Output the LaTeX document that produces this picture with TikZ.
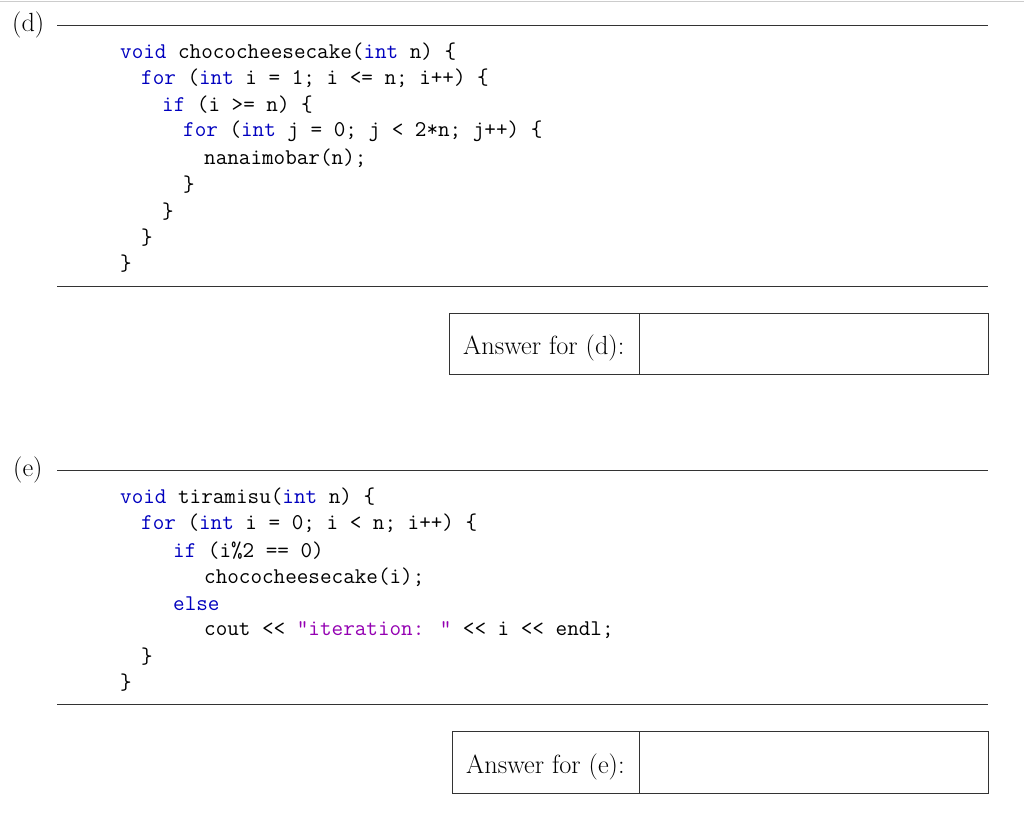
\documentclass[tikz,border=0pt]{standalone}
\usepackage{xcolor}
\definecolor{kw}{rgb}{0,0,0.75}
\definecolor{st}{rgb}{0.58,0,0.7}
\begin{document}
\begin{tikzpicture}[x=1pt,y=-1pt,
  code/.style={anchor=west,inner sep=0pt,yshift=-1.5pt,font=\fontsize{22.5}{27}\selectfont\ttfamily},
  lbl/.style={inner sep=0pt,font=\fontsize{26.3}{30}\selectfont},
  rule/.style={draw=black!80,line width=0.9pt}]
\useasboundingbox[fill=white] (0,0) rectangle (1024,833);
\draw[black!20,line width=1pt] (0,1) -- (1024,1);
% (d)
\node[lbl,anchor=west] (dl) at (12,25) {(d)};
\coordinate (d1a) at (57,25); \coordinate (d1b) at (988,25);
\draw[rule] (d1a) -- (d1b);
\node[code] (c1) at (120,50) {\textcolor{kw}{void} chococheesecake(\textcolor{kw}{int} n) \{};
\node[code] (c2) at (141,77) {\textcolor{kw}{for} (\textcolor{kw}{int} i = 1; i <= n; i++) \{};
\node[code] (c3) at (162,103) {\textcolor{kw}{if} (i >= n) \{};
\node[code] (c4) at (183,130) {\textcolor{kw}{for} (\textcolor{kw}{int} j = 0; j < 2*n; j++) \{};
\node[code] (c5) at (204,157) {nanaimobar(n);};
\node[code] (c6) at (183,183) {\}};
\node[code] (c7) at (162,210) {\}};
\node[code] (c8) at (141,236) {\}};
\node[code] (c9) at (120,262) {\}};
\coordinate (d2a) at (57,286); \coordinate (d2b) at (988,286);
\draw[rule] (d2a) -- (d2b);
\node[draw=black!80,line width=0.8pt,minimum width=539,minimum height=61,anchor=north west,inner sep=0pt] (bd) at (449,313) {};
\draw[black!80,line width=0.8pt] (639,313) -- (639,374);
\node[lbl,anchor=west] (ad) at (463,348) {Answer for (d):};
% (e)
\node[lbl,anchor=west] (el) at (13,470) {(e)};
\coordinate (e1a) at (57,470); \coordinate (e1b) at (988,470);
\draw[rule] (e1a) -- (e1b);
\node[code] (e1) at (120,495) {\textcolor{kw}{void} tiramisu(\textcolor{kw}{int} n) \{};
\node[code] (e2) at (141,522) {\textcolor{kw}{for} (\textcolor{kw}{int} i = 0; i < n; i++) \{};
\node[code] (e3) at (173,549) {\textcolor{kw}{if} (i\%2 == 0)};
\node[code] (e4) at (204,576) {chococheesecake(i);};
\node[code] (e5) at (173,602) {\textcolor{kw}{else}};
\node[code] (e6) at (204,629) {cout << \textcolor{st}{"iteration: "} << i << endl;};
\node[code] (e7) at (141,655) {\}};
\node[code] (e8) at (120,681) {\}};
\coordinate (e2a) at (57,704); \coordinate (e2b) at (988,704);
\draw[rule] (e2a) -- (e2b);
\node[draw=black!80,line width=0.8pt,minimum width=536,minimum height=62,anchor=north west,inner sep=0pt] (be) at (452,731) {};
\draw[black!80,line width=0.8pt] (639,731) -- (639,793);
\node[lbl,anchor=west] (ae) at (466,767) {Answer for (e):};
\end{tikzpicture}
\end{document}
